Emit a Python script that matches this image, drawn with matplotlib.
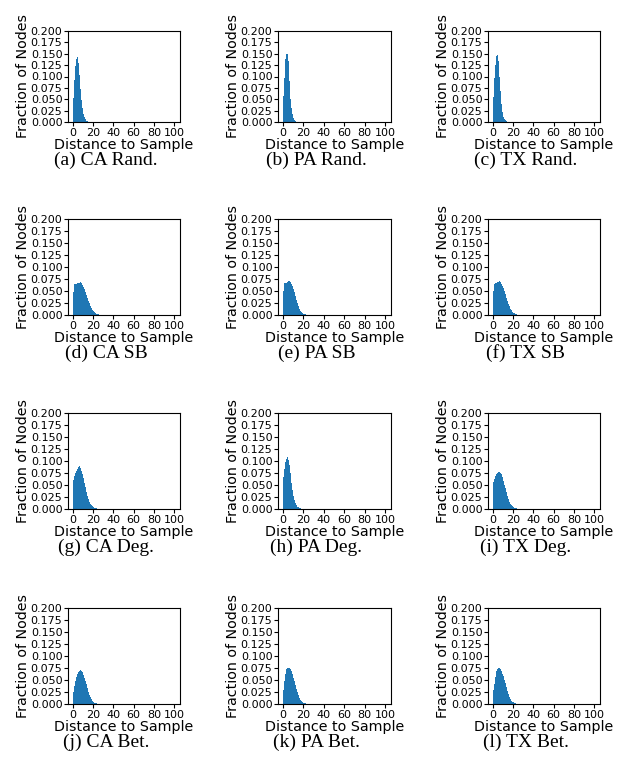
import matplotlib
matplotlib.use("Agg")
import matplotlib.pyplot as plt

# Fraction of nodes at each distance to the sample (distance 1, 2, 3, ...)
ca_rand = [0.053, 0.092, 0.122, 0.138, 0.142, 0.130, 0.103, 0.073, 0.048, 0.030,
           0.018, 0.010, 0.006, 0.003, 0.002, 0.001, 0.0006]
pa_rand = [0.057, 0.097, 0.138, 0.150, 0.150, 0.133, 0.090, 0.051, 0.031, 0.018,
           0.008, 0.004, 0.002, 0.001, 0.0005]
tx_rand = [0.056, 0.097, 0.126, 0.145, 0.147, 0.133, 0.100, 0.069, 0.040, 0.023,
           0.012, 0.007, 0.004, 0.002, 0.001, 0.0005]

ca_sb = [0.048, 0.064, 0.065, 0.065, 0.066, 0.066, 0.067, 0.068, 0.066, 0.063,
         0.059, 0.054, 0.048, 0.042, 0.036, 0.030, 0.024, 0.019, 0.015, 0.011,
         0.008, 0.006, 0.004, 0.003, 0.002, 0.0015, 0.001, 0.0007]
pa_sb = [0.051, 0.066, 0.066, 0.067, 0.069, 0.070, 0.071, 0.069, 0.065, 0.060,
         0.054, 0.047, 0.039, 0.031, 0.024, 0.018, 0.013, 0.009, 0.006, 0.004,
         0.003, 0.002, 0.0015, 0.001, 0.0006]
tx_sb = [0.049, 0.065, 0.066, 0.066, 0.068, 0.069, 0.070, 0.068, 0.065, 0.061,
         0.056, 0.050, 0.043, 0.036, 0.029, 0.023, 0.018, 0.013, 0.010, 0.007,
         0.005, 0.0035, 0.0025, 0.0015, 0.001, 0.0007]

ca_deg = [0.061, 0.069, 0.075, 0.080, 0.084, 0.087, 0.089, 0.086, 0.080, 0.073,
          0.064, 0.055, 0.045, 0.036, 0.028, 0.021, 0.015, 0.011, 0.008, 0.006,
          0.004, 0.003, 0.002, 0.0015, 0.001, 0.0007]
pa_deg = [0.066, 0.083, 0.097, 0.104, 0.108, 0.103, 0.092, 0.075, 0.055, 0.039,
          0.027, 0.018, 0.012, 0.008, 0.005, 0.0035, 0.0025, 0.0015, 0.001, 0.0007]
tx_deg = [0.057, 0.063, 0.068, 0.073, 0.076, 0.078, 0.078, 0.076, 0.072, 0.066,
          0.059, 0.051, 0.043, 0.035, 0.027, 0.021, 0.015, 0.011, 0.008, 0.006,
          0.004, 0.003, 0.002, 0.0013, 0.0008]

ca_bet = [0.025, 0.037, 0.048, 0.057, 0.063, 0.067, 0.069, 0.070, 0.069, 0.066,
          0.061, 0.055, 0.048, 0.041, 0.033, 0.026, 0.019, 0.014, 0.010, 0.007,
          0.005, 0.003, 0.002, 0.0013, 0.0008]
pa_bet = [0.030, 0.047, 0.062, 0.072, 0.076, 0.076, 0.075, 0.072, 0.068, 0.062,
          0.055, 0.047, 0.039, 0.031, 0.024, 0.018, 0.013, 0.009, 0.006, 0.004,
          0.0028, 0.0018, 0.0011, 0.0007]
tx_bet = [0.030, 0.042, 0.056, 0.068, 0.073, 0.076, 0.075, 0.072, 0.068, 0.063,
          0.058, 0.051, 0.043, 0.035, 0.027, 0.020, 0.014, 0.010, 0.007, 0.005,
          0.0035, 0.0022, 0.0013, 0.0008]

series = [ca_rand, pa_rand, tx_rand,
          ca_sb, pa_sb, tx_sb,
          ca_deg, pa_deg, tx_deg,
          ca_bet, pa_bet, tx_bet]
captions = ["(a) CA Rand.", "(b) PA Rand.", "(c) TX Rand.",
            "(d) CA SB", "(e) PA SB", "(f) TX SB",
            "(g) CA Deg.", "(h) PA Deg.", "(i) TX Deg.",
            "(j) CA Bet.", "(k) PA Bet.", "(l) TX Bet."]
yticks = [0.0, 0.025, 0.05, 0.075, 0.1, 0.125, 0.15, 0.175, 0.2]
xticks = [0, 20, 40, 60, 80, 100]

W, H = 636, 779
fig = plt.figure(figsize=(W / 100, H / 100), dpi=100)

# axes boxes in pixels (left, right) per column and (top, bottom) per row
cols = [(68, 180), (278, 391), (488, 600)]
rows = [(31, 122), (219, 315), (413, 509), (608, 704)]
caption_y = [160, 353, 547, 742]

for i, vals in enumerate(series):
    r, c = divmod(i, 3)
    l, rr = cols[c]
    t, b = rows[r]
    ax = fig.add_axes([l / W, 1 - b / H, (rr - l) / W, (b - t) / H])
    dist = list(range(len(vals)))
    ax.bar(dist, vals, width=1.0, align="edge", color="#1f77b4", linewidth=0)
    ax.set_xlim(-4.5, 105.5)
    ax.set_ylim(0, 0.2)
    ax.set_yticks(yticks)
    ax.set_xticks(xticks)
    ax.tick_params(labelsize=8, length=3, pad=1)
    ax.set_yticklabels(["%.3f" % v for v in yticks])
    ax.set_xlabel("Distance to Sample", fontsize=10.3, labelpad=0)
    ax.set_ylabel("Fraction of Nodes", fontsize=10.3, labelpad=0.5)
    cx = (l + rr) / 2 - 18
    fig.text(cx / W, 1 - caption_y[r] / H, captions[i], ha="center", va="center",
             fontsize=14, family="Liberation Serif")

fig.savefig("out.png", dpi=100)
